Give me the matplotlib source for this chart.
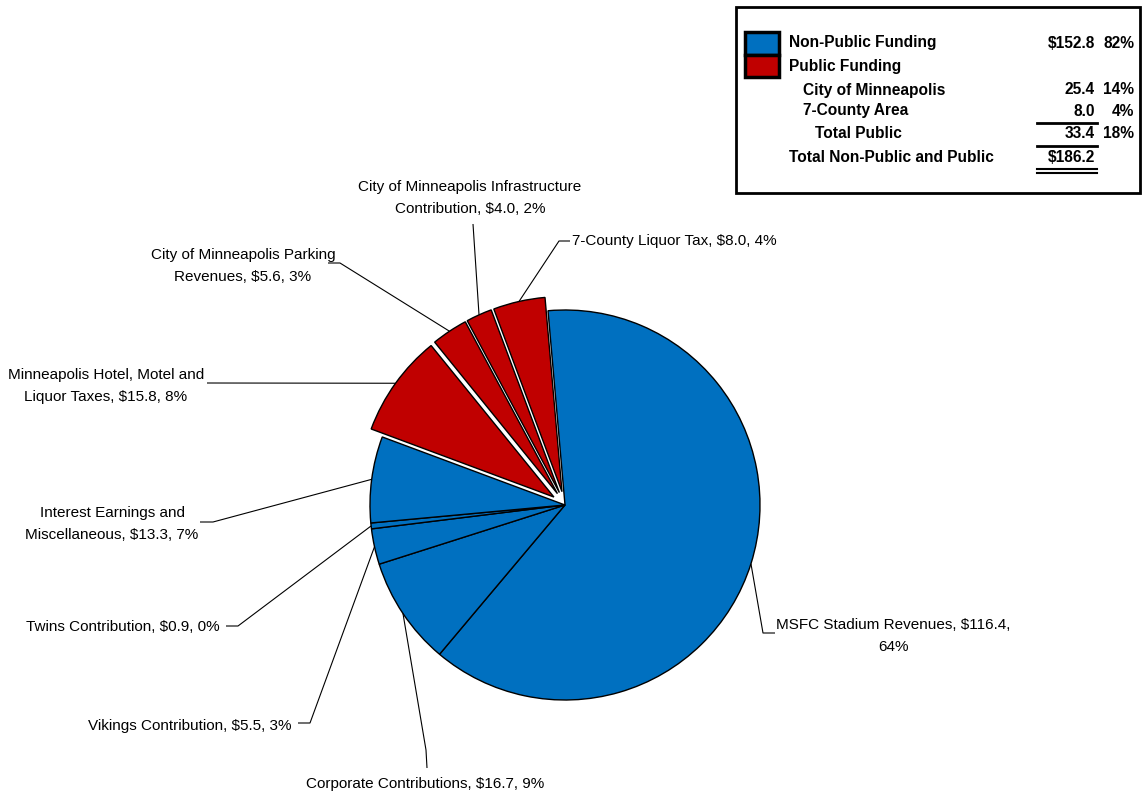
import matplotlib
matplotlib.use("Agg")
import matplotlib.pyplot as plt
from matplotlib.patches import Rectangle
import numpy as np

# Funding sources ($ millions), clockwise from the top
labels = [
    "MSFC Stadium Revenues, $116.4,\n64%",
    "Corporate Contributions, $16.7, 9%",
    "Vikings Contribution, $5.5, 3%",
    "Twins Contribution, $0.9, 0%",
    "Interest Earnings and\nMiscellaneous, $13.3, 7%",
    "Minneapolis Hotel, Motel and\nLiquor Taxes, $15.8, 8%",
    "City of Minneapolis Parking\nRevenues, $5.6, 3%",
    "City of Minneapolis Infrastructure\nContribution, $4.0, 2%",
    "7-County Liquor Tax, $8.0, 4%",
]
values = [116.4, 16.7, 5.5, 0.9, 13.3, 15.8, 5.6, 4.0, 8.0]
is_public = [False, False, False, False, False, True, True, True, True]

# legend table
legend_rows = ["Non-Public Funding", "Public Funding", "City of Minneapolis",
               "7-County Area", "Total Public", "Total Non-Public and Public"]
legend_vals = ["$152.8", "", "25.4", "8.0", "33.4", "$186.2"]
legend_pcts = ["82%", "", "14%", "4%", "18%", ""]

BLUE = "#0070C0"
RED = "#C00000"
FONT = ["Liberation Sans", "DejaVu Sans"]

W, H = 1143, 796


def fy(y):
    # image-style y (from top) to axes y
    return H - y


fig = plt.figure(figsize=(W / 100, H / 100), dpi=100)
ax = fig.add_axes([0, 0, 1, 1])

cx, cy, R = 565, fy(505), 195
colors = [RED if p else BLUE for p in is_public]
explode = [0.07 * R if p else 0 for p in is_public]

wedges, _ = ax.pie(values, colors=colors, startangle=95, counterclock=False,
                   center=(cx, cy), radius=R, explode=explode,
                   wedgeprops=dict(edgecolor="black", linewidth=1.0), frame=False)
ax.set_xlim(0, W)
ax.set_ylim(0, H)
ax.set_aspect("equal")
ax.axis("off")

# label layout: text position (image px), ha, and leader-line elbow points
layout = [
    ((776, 636), "left", [(763, 633), (775, 633)]),
    ((425, 784), "center", [(426, 750), (427, 768)]),
    ((292, 726), "right", [(310, 723), (298, 723)]),
    ((220, 627), "right", [(238, 626), (226, 626)]),
    ((112, 524), "center", [(213, 522), (200, 522)]),
    ((106, 386), "center", [(207, 383)]),
    ((243, 266), "center", [(340, 263), (328, 263)]),
    ((470, 198), "center", [(473, 224)]),
    ((572, 241), "left", [(559, 241), (570, 241)]),
]

for w, lab, (txy, ha, elbow) in zip(wedges, labels, layout):
    th = np.deg2rad(0.5 * (w.theta1 + w.theta2))
    ax_x = w.center[0] + w.r * np.cos(th)
    ax_y = w.center[1] + w.r * np.sin(th)
    xs = [ax_x] + [p[0] for p in elbow]
    ys = [ax_y] + [fy(p[1]) for p in elbow]
    ax.plot(xs, ys, color="black", lw=0.8, solid_capstyle="butt")
    ax.text(txy[0], fy(txy[1]), lab, ha=ha, va="center", multialignment="center",
            fontsize=11, family=FONT, linespacing=1.75)

# legend box
ax.add_patch(Rectangle((736, fy(193)), 404, 186, fill=False, lw=2, ec="black"))
ax.add_patch(Rectangle((745, fy(55)), 34, 23, fc=BLUE, ec="black", lw=2.5))
ax.add_patch(Rectangle((745, fy(77)), 34, 22, fc=RED, ec="black", lw=2.5))

row_y = [43, 66, 90, 111, 134, 157]
row_x = [789, 789, 803, 803, 815, 789]
for name, val, pct, x, y in zip(legend_rows, legend_vals, legend_pcts, row_x, row_y):
    ax.text(x, fy(y), name, ha="left", va="center", fontsize=11.2,
            fontweight="bold", family=FONT)
    if val:
        ax.text(1095, fy(y), val, ha="right", va="center", fontsize=11.2,
                fontweight="bold", family=FONT)
    if pct:
        ax.text(1134, fy(y), pct, ha="right", va="center", fontsize=11.2,
                fontweight="bold", family=FONT)

# underlines in the table
ax.plot([1037, 1097], [fy(123), fy(123)], color="black", lw=2)
ax.plot([1037, 1097], [fy(146), fy(146)], color="black", lw=2)
ax.plot([1037, 1097], [fy(169), fy(169)], color="black", lw=1.5)
ax.plot([1037, 1097], [fy(173), fy(173)], color="black", lw=1.5)

fig.savefig("out.png", dpi=100, facecolor="white")
